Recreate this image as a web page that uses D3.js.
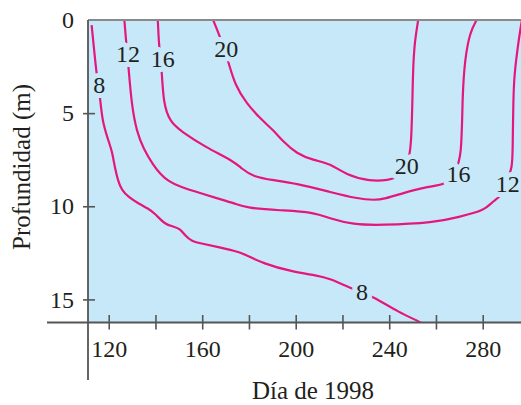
<!DOCTYPE html>
<html>
<head>
<meta charset="utf-8">
<script src="https://cdn.jsdelivr.net/npm/d3@7"></script>
<style>
  html, body { margin: 0; padding: 0; background: #ffffff; }
  svg { display: block; }
  text { font-family: "Liberation Serif", "Times New Roman", serif; fill: #231f20; }
</style>
</head>
<body>
<svg id="chart" width="521" height="405"></svg>
<script>
// ---- Data (day of 1998, depth in m) ----
const xTickValues = [120, 140, 160, 180, 200, 220, 240, 260, 280];
const yTickValues = [0, 5, 10, 15];
const levels = [8, 12, 16, 20];

const contour8 = [[112.7,0.27],[114.6,2.69],[115.4,3.41],[116.3,4.14],[117.3,5.47],[119.8,6.45],[121.5,7.08],[122.5,7.85],[124.1,8.69],[125.6,9.14],[128.4,9.5],[132.7,9.85],[136.9,10.12],[139.8,10.39],[144.1,10.98],[147.6,11.08],[150.5,11.2],[152.6,11.56],[155.5,11.88],[159.8,12.0],[166.9,12.19],[174.0,12.4],[177.6,12.54],[186.1,13.08],[199.0,13.53],[209.0,13.71],[214.7,13.89],[222.5,14.34],[228.0,14.61],[233.5,14.88],[243.9,15.68],[253.9,16.25],[255.5,16.4]];
const contour12 = [[126.7,0],[127.4,1.08],[127.9,1.75],[128.4,2.42],[129.8,4.57],[132.0,6.0],[134.8,6.9],[139.1,7.8],[141.9,8.24],[145.5,8.66],[150.5,8.96],[159.8,9.32],[166.9,9.59],[174.0,9.85],[179.0,10.09],[193.3,10.22],[207.5,10.31],[214.7,10.66],[224.6,10.98],[236.1,11.02],[259.6,10.88],[269.6,10.58],[281.0,10.22],[283.9,9.77],[288.1,9.45],[290.4,8.66],[292.7,7.88],[292.8,6.99],[293.1,4.21],[293.5,2.96],[295.1,1.34],[296.2,0.43],[296.8,0]];
const contour16 = [[141.0,0],[141.5,1.34],[142.1,2.02],[142.7,2.69],[143.4,4.48],[146.2,5.47],[151.2,6.0],[161.2,6.81],[174.0,7.62],[176.5,7.95],[181.9,8.42],[190.4,8.6],[200.4,8.78],[214.7,9.23],[226.1,9.59],[233.9,9.68],[238.2,9.59],[245.3,9.32],[255.3,8.96],[265.3,8.83],[268.2,8.13],[271.0,7.44],[271.3,4.03],[272.4,2.06],[274.6,0.63],[277.4,0]];
const contour20 = [[164.7,0],[167.6,0.9],[169.4,1.57],[171.2,2.24],[174.0,3.49],[179.0,4.48],[184.7,5.28],[190.4,5.91],[194.7,6.54],[200.4,7.17],[207.5,7.53],[214.7,7.7],[221.8,8.33],[231.8,8.66],[239.6,8.6],[244.6,8.42],[247.5,7.8],[249.6,7.08],[250.1,2.51],[251.0,1.08],[252.4,0]];

const labels8 = [[116.0,3.49],[228.4,14.58]];
const labels12 = [[128.2,1.79],[290.7,8.76]];
const labels16 = [[143.1,2.09],[269.6,8.27]];
const labels20 = [[170.3,1.52],[247.5,7.8]];

const contours = [
  {level: levels[0], points: contour8, labels: labels8},
  {level: levels[1], points: contour12, labels: labels12},
  {level: levels[2], points: contour16, labels: labels16},
  {level: levels[3], points: contour20, labels: labels20}
];

// ---- Layout ----
const plot = {left: 88, right: 521, top: 20, bottom: 322.5};
const bg = "#c6e8f8";
const lineColor = "#e5177f";
const axisColor = "#555555";

const x = d3.scaleLinear().domain([111.14, 296.38]).range([plot.left, plot.right]);
const y = d3.scaleLinear().domain([0, 16.24]).range([plot.top, plot.bottom]);

const svg = d3.select("#chart");

svg.append("rect")
  .attr("x", plot.left).attr("y", plot.top)
  .attr("width", plot.right - plot.left).attr("height", plot.bottom - plot.top)
  .attr("fill", bg);

svg.append("clipPath").attr("id", "clip")
  .append("rect")
  .attr("x", plot.left).attr("y", plot.top)
  .attr("width", plot.right - plot.left).attr("height", plot.bottom - plot.top);

const line = d3.line()
  .x(d => x(d[0])).y(d => y(d[1]))
  .curve(d3.curveBasis);

const gc = svg.append("g").attr("clip-path", "url(#clip)");
gc.selectAll("path.contour").data(contours).join("path")
  .attr("class", "contour")
  .attr("d", d => line(d.points))
  .attr("fill", "none")
  .attr("stroke", lineColor)
  .attr("stroke-width", 2.2)
  .attr("stroke-linejoin", "round");

// contour labels with background halo to break the lines
const labelData = contours.flatMap(c => c.labels.map(p => ({level: c.level, p})));
gc.selectAll("text.clabel").data(labelData).join("text")
  .attr("class", "clabel")
  .attr("x", d => x(d.p[0]))
  .attr("y", d => y(d.p[1]))
  .attr("dy", "0.35em")
  .attr("text-anchor", "middle")
  .attr("font-size", 24)
  .attr("stroke", bg)
  .attr("stroke-width", 10)
  .attr("paint-order", "stroke")
  .attr("stroke-linejoin", "round")
  .text(d => d.level);

// top border
svg.append("line")
  .attr("x1", plot.left).attr("x2", plot.right)
  .attr("y1", plot.top).attr("y2", plot.top)
  .attr("stroke", "#8a8a8a").attr("stroke-width", 2);

// axes lines
svg.append("line")
  .attr("x1", 47).attr("x2", plot.right)
  .attr("y1", plot.bottom).attr("y2", plot.bottom)
  .attr("stroke", axisColor).attr("stroke-width", 1.8);
svg.append("line")
  .attr("x1", plot.left).attr("x2", plot.left)
  .attr("y1", plot.top).attr("y2", 380)
  .attr("stroke", axisColor).attr("stroke-width", 1.8);

// y axis
const yAxis = svg.append("g")
  .attr("transform", `translate(${plot.left},0)`)
  .call(d3.axisLeft(y).tickValues(yTickValues).tickSizeInner(5).tickSizeOuter(0).tickPadding(9));
yAxis.select(".domain").remove();
yAxis.selectAll(".tick line")
  .attr("x1", 7).attr("stroke", axisColor).attr("stroke-width", 1.6)
  .attr("display", d => d === 0 ? "none" : null);
yAxis.selectAll(".tick text")
  .attr("font-size", 24).attr("font-family", "Liberation Serif, serif").attr("fill", "#231f20");

// x axis
const xAxis = svg.append("g")
  .attr("transform", `translate(0,${plot.bottom})`)
  .call(d3.axisBottom(x).tickValues(xTickValues)
    .tickFormat(d => d % 40 === 0 ? d : "")
    .tickSizeInner(7).tickSizeOuter(0).tickPadding(10));
xAxis.select(".domain").remove();
xAxis.selectAll(".tick line")
  .attr("y1", -7.5).attr("stroke", axisColor).attr("stroke-width", 1.6);
xAxis.selectAll(".tick text")
  .attr("font-size", 24).attr("font-family", "Liberation Serif, serif").attr("fill", "#231f20");

// axis titles
svg.append("text")
  .attr("x", 313).attr("y", 399)
  .attr("text-anchor", "middle")
  .attr("font-size", 25)
  .text("Día de 1998");

svg.append("text")
  .attr("transform", "translate(30,167) rotate(-90)")
  .attr("text-anchor", "middle")
  .attr("font-size", 25)
  .text("Profundidad (m)");
</script>
</body>
</html>
